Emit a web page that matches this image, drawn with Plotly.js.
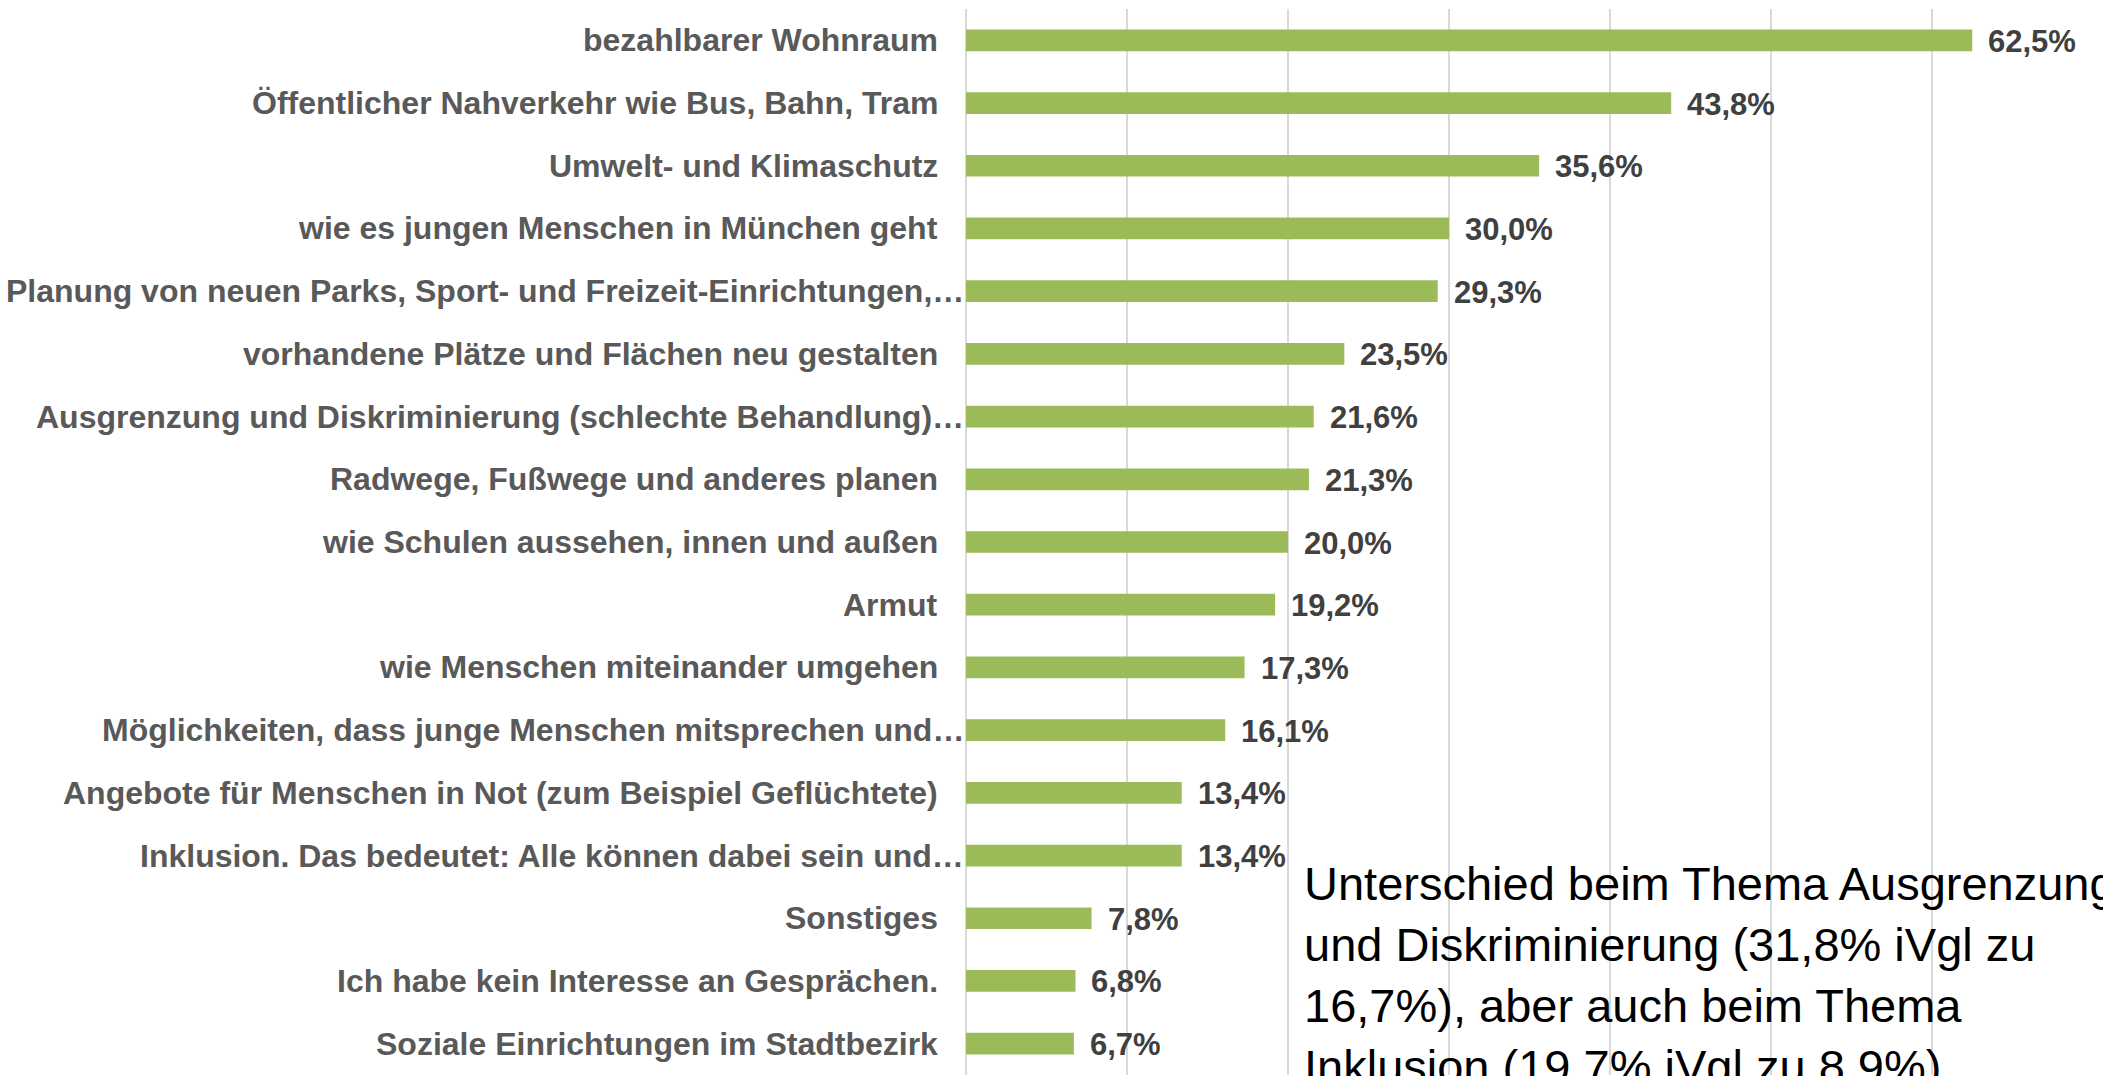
<!DOCTYPE html>
<html>
<head>
<meta charset="utf-8">
<script src="https://cdn.plot.ly/plotly-3.0.1.min.js"></script>
<style>
  html, body { margin: 0; padding: 0; background: #ffffff; overflow: hidden; }
  #chart { width: 2103px; height: 1076px; }
</style>
</head>
<body>
<div id="chart"></div>
<script>
// ---- data ----
const categories = [
  "bezahlbarer Wohnraum",
  "Öffentlicher Nahverkehr wie Bus, Bahn, Tram",
  "Umwelt- und Klimaschutz",
  "wie es jungen Menschen in München geht",
  "Planung von neuen Parks, Sport- und Freizeit-Einrichtungen,…",
  "vorhandene Plätze und Flächen neu gestalten",
  "Ausgrenzung und Diskriminierung (schlechte Behandlung)…",
  "Radwege, Fußwege und anderes planen",
  "wie Schulen aussehen, innen und außen",
  "Armut",
  "wie Menschen miteinander umgehen",
  "Möglichkeiten, dass junge Menschen mitsprechen und…",
  "Angebote für Menschen in Not (zum Beispiel Geflüchtete)",
  "Inklusion. Das bedeutet: Alle können dabei sein und…",
  "Sonstiges",
  "Ich habe kein Interesse an Gesprächen.",
  "Soziale Einrichtungen im Stadtbezirk"
];
const values = [62.5, 43.8, 35.6, 30.0, 29.3, 23.5, 21.6, 21.3, 20.0, 19.2, 17.3, 16.1, 13.4, 13.4, 7.8, 6.8, 6.7];
const valueLabels = values.map(v => v.toFixed(1).replace('.', ',') + '%');
const truncated = categories.map(c => c.endsWith('…'));
const noteLines = [
  "Unterschied beim Thema Ausgrenzung",
  "und Diskriminierung (31,8% iVgl zu",
  "16,7%), aber auch beim Thema",
  "Inklusion (19,7% iVgl zu 8,9%)."
];

// ---- styling ----
const FONT = '"Liberation Sans", Arial, sans-serif';
const BAR_COLOR = '#9BBB59';
const L = 966, R = 10, T = 9, B = 1, W = 2103, H = 1076;

const trace = {
  type: 'bar',
  orientation: 'h',
  x: values,
  y: categories,
  marker: { color: BAR_COLOR, line: { width: 0 } },
  hoverinfo: 'skip'
};

const annotations = [];
// category labels
categories.forEach((c, i) => {
  annotations.push({
    xref: 'paper', yref: 'y', x: 0, y: c,
    xanchor: 'right', yanchor: 'middle',
    xshift: truncated[i] ? 0 : -26,
    text: c, showarrow: false,
    font: { family: FONT, size: 32, color: '#595959', weight: 'bold' }
  });
});
// value labels
values.forEach((v, i) => {
  annotations.push({
    xref: 'x', yref: 'y', x: v, y: categories[i],
    xanchor: 'left', yanchor: 'middle',
    xshift: 14, yshift: -1,
    text: '<b>' + valueLabels[i] + '</b>', showarrow: false,
    font: { family: FONT, size: 31, color: '#404040' }
  });
});
// note text
annotations.push({
  xref: 'paper', yref: 'paper',
  x: (1302 - L) / (W - L - R), y: 1 - (855 - T) / (H - T - B),
  xanchor: 'left', yanchor: 'top', align: 'left',
  text: noteLines.join('<br>'), showarrow: false,
  font: { family: FONT, size: 47, color: '#000000' }
});

const layout = {
  width: W, height: H,
  margin: { l: L, r: R, t: T, b: B, pad: 0 },
  paper_bgcolor: '#ffffff', plot_bgcolor: '#ffffff',
  showlegend: false,
  bargap: 0.654,
  xaxis: {
    range: [0, 70], dtick: 10, tick0: 0,
    showgrid: true, gridcolor: '#D9D9D9', gridwidth: 1.5,
    zeroline: true, zerolinecolor: '#D9D9D9', zerolinewidth: 1.5,
    showticklabels: false, ticks: '', showline: false, fixedrange: true
  },
  yaxis: {
    autorange: 'reversed', showticklabels: false, ticks: '',
    showgrid: false, zeroline: false, showline: false, fixedrange: true
  },
  annotations: annotations
};

Plotly.newPlot('chart', [trace], layout, { staticPlot: true, displayModeBar: false });
</script>
</body>
</html>
